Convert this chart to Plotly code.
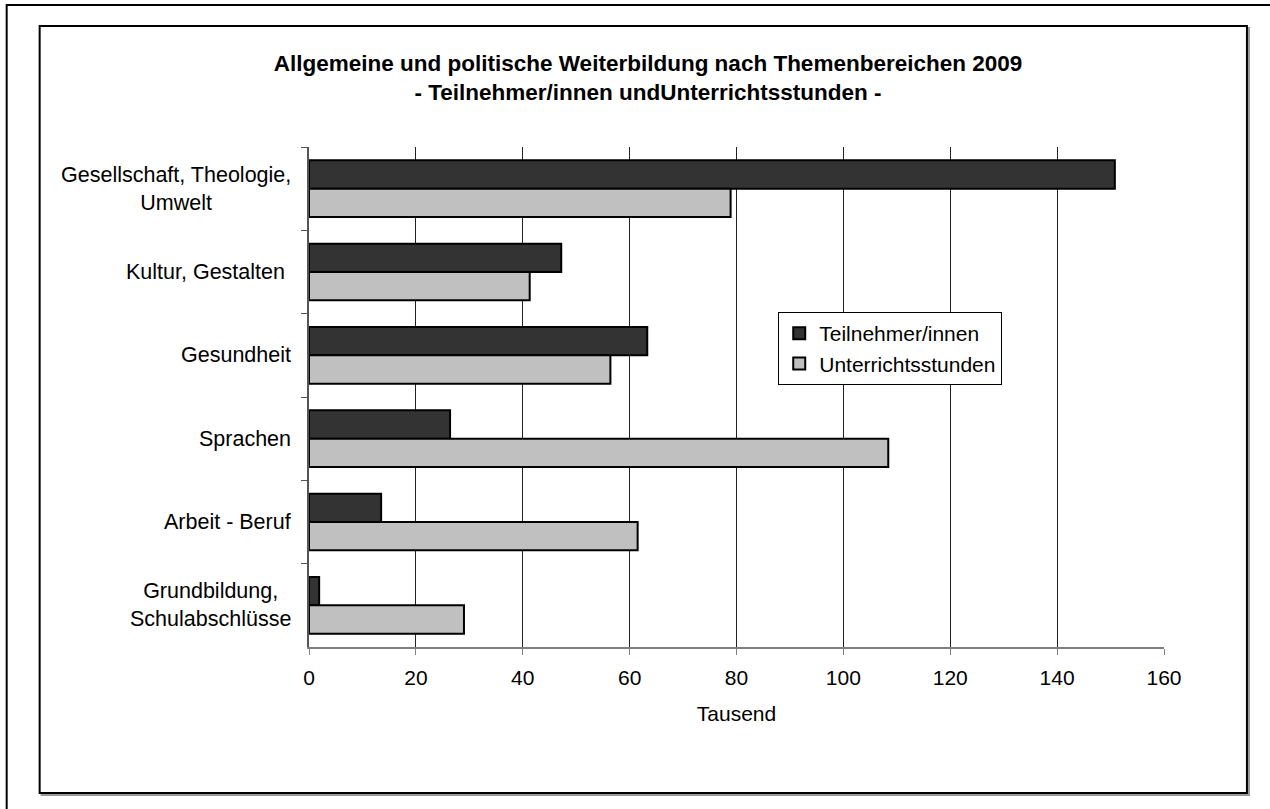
import plotly.graph_objects as go

# ---- data ----
categories = ["Gesellschaft", "Kultur", "Gesundheit", "Sprachen", "Arbeit", "Grundbildung"]
category_labels = ["Gesellschaft, Theologie,<br>Umwelt", "Kultur, Gestalten ", "Gesundheit",
                   "Sprachen", "Arbeit - Beruf", "Grundbildung,<br>Schulabschlüsse"]
teilnehmer = [150.8, 47.2, 63.3, 26.4, 13.5, 1.9]
stunden = [78.9, 41.3, 56.4, 108.4, 61.5, 29.0]
x_ticks = [0, 20, 40, 60, 80, 100, 120, 140, 160]

W, H = 1270, 809
L, R, T, B = 308.5, 1164, 147, 647
FONT = "Liberation Sans, Arial, sans-serif"


def px(xp):
    return (xp - L) / (R - L)


def py(yp):
    return (B - yp) / (B - T)


fig = go.Figure()
fig.add_bar(y=categories, x=teilnehmer, orientation="h", name="Teilnehmer/innen",
            marker=dict(color="#333333", line=dict(color="black", width=2)))
fig.add_bar(y=categories, x=stunden, orientation="h", name="Unterrichtsstunden",
            marker=dict(color="#C0C0C0", line=dict(color="black", width=2)))

shapes = []
# outer frame (right/bottom edges lie outside the picture)
shapes.append(dict(type="rect", xref="paper", yref="paper", x0=px(6), x1=px(1300), y0=py(840), y1=py(5),
                   line=dict(color="black", width=2), fillcolor="rgba(0,0,0,0)", layer="below"))
# inner chart area shadow + frame
shapes.append(dict(type="rect", xref="paper", yref="paper", x0=px(41), x1=px(1249), y0=py(795), y1=py(28),
                   line=dict(color="#999999", width=2), fillcolor="rgba(0,0,0,0)", layer="below"))
shapes.append(dict(type="rect", xref="paper", yref="paper", x0=px(39), x1=px(1247), y0=py(793), y1=py(26),
                   line=dict(color="black", width=2), fillcolor="white", layer="below"))

annotations = []
for cat, lab in zip(categories, category_labels):
    annotations.append(dict(x=px(292), y=cat, xref="paper", yref="y", text=lab, showarrow=False,
                            xanchor="right", yanchor="middle", align="center",
                            font=dict(family=FONT, size=21.5, color="black")))

fig.update_layout(
    width=W, height=H,
    margin=dict(l=L, r=W - R, t=T, b=H - B),
    paper_bgcolor="white", plot_bgcolor="white",
    font=dict(family=FONT, size=21, color="black"),
    title=dict(text="<b>Allgemeine und politische Weiterbildung nach Themenbereichen 2009<br>"
                    "- Teilnehmer/innen undUnterrichtsstunden -</b>",
               x=648 / W, xref="container", xanchor="center",
               y=1 - 70.5 / H, yref="container", yanchor="middle",
               font=dict(family=FONT, size=22.5, color="black")),
    barmode="group", bargap=0.32, bargroupgap=0,
    showlegend=True,
    legend=dict(x=px(778), y=py(312), xanchor="left", yanchor="top", traceorder="normal",
                bgcolor="white", bordercolor="black", borderwidth=1,
                font=dict(family=FONT, size=21, color="black"),
                itemsizing="constant"),
    shapes=shapes,
    annotations=annotations,
    xaxis=dict(range=[0, 160], tickvals=x_ticks, ticktext=[str(v) for v in x_ticks],
               showgrid=True, gridcolor="#222222", gridwidth=1,
               showline=True, linecolor="#808080", linewidth=2,
               ticks="outside", ticklen=6, tickcolor="#808080", tickwidth=1,
               ticklabelstandoff=5,
               zeroline=False,
               title=dict(text="Tausend", standoff=18, font=dict(family=FONT, size=21)),
               tickfont=dict(family=FONT, size=21)),
    yaxis=dict(categoryorder="array", categoryarray=categories, autorange="reversed",
               showticklabels=False, showgrid=False,
               showline=True, linecolor="#555555", linewidth=2,
               ticks="outside", tickson="boundaries", ticklen=6, tickcolor="#555555"),
)

fig.write_html("out.html",
               config={"displayModeBar": False},
               post_script="document.body.style.margin='0';document.body.style.overflow='hidden';")
